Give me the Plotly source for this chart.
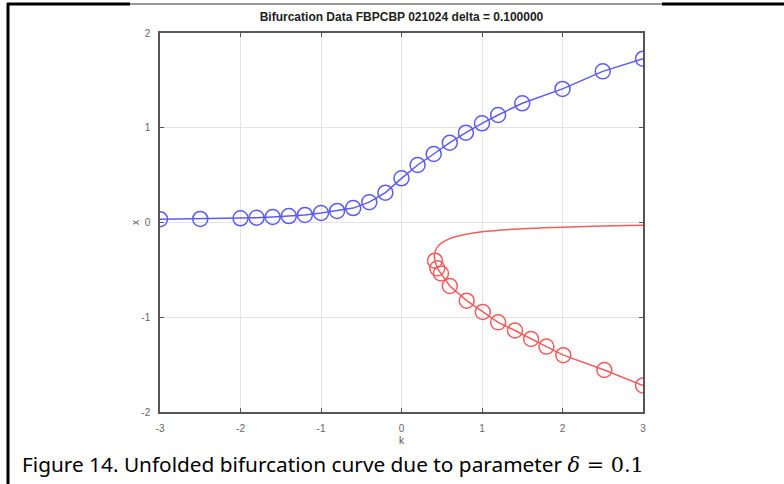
import plotly.graph_objects as go

# ---- data ----
blue_k = [-3.0, -2.5, -2.0, -1.8, -1.6, -1.4, -1.2, -1.0, -0.8, -0.6, -0.4, -0.2,
          0.0, 0.2, 0.4, 0.6, 0.8, 1.0, 1.2, 1.5, 2.0, 2.5, 3.0]
blue_x = [0.035, 0.038, 0.044, 0.050, 0.058, 0.068, 0.080, 0.100, 0.122, 0.152, 0.215, 0.315,
          0.466, 0.607, 0.723, 0.842, 0.948, 1.047, 1.135, 1.258, 1.41, 1.595, 1.729]

red_k = [0.416, 0.445, 0.49, 0.60, 0.81, 1.01, 1.20, 1.41, 1.61, 1.80, 2.01, 2.52, 3.0]
red_x = [-0.403, -0.484, -0.537, -0.67, -0.825, -0.945, -1.054, -1.14, -1.23, -1.31, -1.40, -1.557, -1.72]

upper_k = [0.416, 0.408, 0.41, 0.42, 0.45, 0.50, 0.60, 0.80, 1.0, 1.5, 2.0, 2.5, 3.0]
upper_x = [-0.403, -0.36, -0.33, -0.30, -0.255, -0.215, -0.17, -0.125, -0.098, -0.066, -0.050, -0.038, -0.030]

tick_vals_x = [-3, -2, -1, 0, 1, 2, 3]
tick_text_x = ["-3", "-2", "-1", "0", "1", "2", "3"]
tick_vals_y = [-2, -1, 0, 1, 2]
tick_text_y = ["-2", "-1", "0", "1", "2"]

title_text = "Bifurcation Data FBPCBP 021024 delta = 0.100000"
caption_main = "Figure 14. Unfolded bifurcation curve due to parameter "
caption_math = "<i>δ</i> = 0.1"

BLUE = "#5c5cf4"
RED = "#f25c5c"

# ---- layout geometry (pixels) ----
W, H = 784, 484
L, R, T, B = 160, 643, 33, 412
pw, ph = R - L, B - T


def px(xp):
    return (xp - L) / pw


def py(yp):
    return (B - yp) / ph


fig = go.Figure()
fig.add_trace(go.Scatter(x=upper_k, y=upper_x, mode="lines", line=dict(color=RED, width=1.5, shape="spline"),
                         showlegend=False, hoverinfo="skip"))
fig.add_trace(go.Scatter(x=red_k, y=red_x, mode="lines+markers", line=dict(color=RED, width=1.5),
                         marker=dict(symbol="circle-open", size=15, line=dict(color=RED, width=1.5)),
                         showlegend=False))
fig.add_trace(go.Scatter(x=blue_k, y=blue_x, mode="lines+markers", line=dict(color=BLUE, width=1.5),
                         marker=dict(symbol="circle-open", size=15, line=dict(color=BLUE, width=1.5)),
                         showlegend=False))

tick_font = dict(family="Liberation Sans, Arial, sans-serif", size=10, color="#666666")
axis_common = dict(showgrid=True, gridcolor="#e3e3e3", gridwidth=1, zeroline=False,
                   showline=True, linecolor="#555555", linewidth=1.5, mirror="ticks",
                   ticks="inside", ticklen=4, tickcolor="#555555", tickfont=tick_font)

fig.update_layout(
    width=W, height=H,
    margin=dict(l=L, r=W - R, t=T, b=H - B),
    paper_bgcolor="white", plot_bgcolor="white",
    xaxis=dict(range=[-3, 3], tickvals=tick_vals_x, ticktext=tick_text_x, ticklabelstandoff=6, **axis_common),
    yaxis=dict(range=[-2, 2], tickvals=tick_vals_y, ticktext=tick_text_y, ticklabelstandoff=6, **axis_common),
    title=dict(text="<b>" + title_text + "</b>", x=px(401.5), xref="paper", xanchor="center",
               y=1 - 17 / H, yref="container", yanchor="middle",
               font=dict(family="Liberation Sans, Arial, sans-serif", size=12, color="#222222")),
    showlegend=False,
)

caption_text = (caption_main +
                '<span style="font-family:\'DejaVu Serif\', \'Liberation Serif\', serif">' +
                caption_math + "</span>")

annotations = [
    dict(text="x", x=px(135), y=py(223), xref="paper", yref="paper", showarrow=False, textangle=-90,
         xanchor="center", yanchor="middle",
         font=dict(family="Liberation Sans, Arial, sans-serif", size=10, color="#555555")),
    dict(text="k", x=px(401.5), y=py(440), xref="paper", yref="paper", showarrow=False,
         xanchor="center", yanchor="middle",
         font=dict(family="Liberation Sans, Arial, sans-serif", size=10, color="#555555")),
    dict(text=caption_text, x=px(20), y=py(464), xref="paper", yref="paper", showarrow=False,
         xanchor="left", yanchor="middle",
         font=dict(family="Noto Sans, sans-serif", size=20.8, color="black")),
]
fig.update_layout(annotations=annotations)

shapes = [
    dict(type="line", xref="paper", yref="paper", x0=px(8), x1=px(8), y0=py(3), y1=py(484),
         line=dict(color="black", width=3)),
    dict(type="line", xref="paper", yref="paper", x0=px(7), x1=px(130), y0=py(4), y1=py(4),
         line=dict(color="black", width=3)),
    dict(type="line", xref="paper", yref="paper", x0=px(130), x1=px(662), y0=py(4), y1=py(4),
         line=dict(color="#333333", width=1)),
    dict(type="line", xref="paper", yref="paper", x0=px(662), x1=px(784), y0=py(4), y1=py(4),
         line=dict(color="black", width=3)),
]
fig.update_layout(shapes=shapes)

fig.write_html("out.html")
